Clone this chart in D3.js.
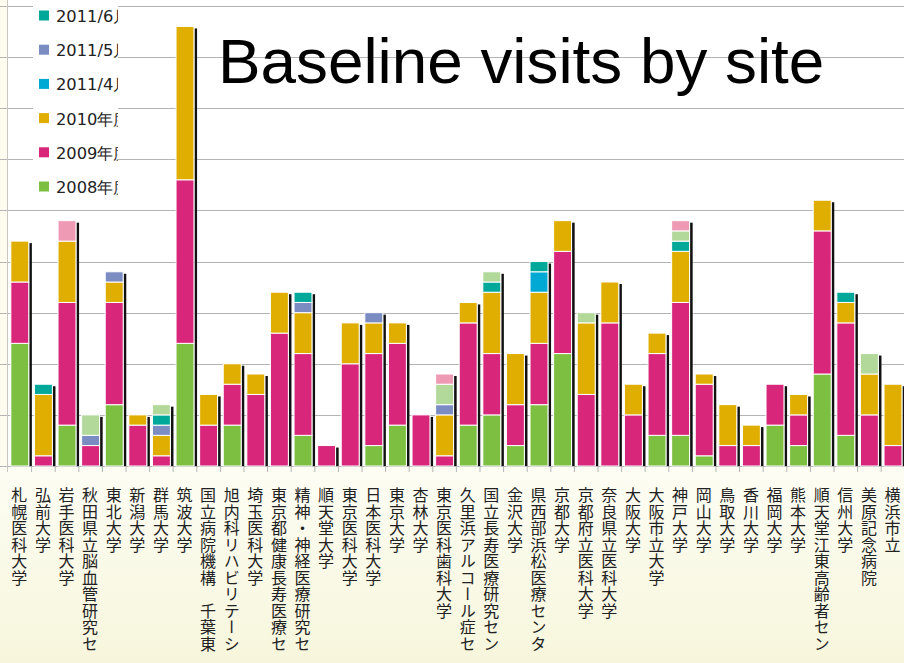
<!DOCTYPE html>
<html><head><meta charset="utf-8">
<script src="https://cdn.jsdelivr.net/npm/d3@7"></script>
<style>body{margin:0;background:#fff;} svg{display:block;}</style>
</head><body>
<svg id="c" width="904" height="663"></svg>
<script>
const sites = ["札幌医科大学","弘前大学","岩手医科大学","秋田県立脳血管研究セ","東北大学","新潟大学","群馬大学","筑波大学","国立病院機構　千葉東","旭内科リハビリテーシ","埼玉医科大学","東京都健康長寿医療セ","精神・神経医療研究セ","順天堂大学","東京医科大学","日本医科大学","東京大学","杏林大学","東京医科歯科大学","久里浜アルコール症セ","国立長寿医療研究セン","金沢大学","県西部浜松医療センタ","京都大学","京都府立医科大学","奈良県立医科大学","大阪大学","大阪市立大学","神戸大学","岡山大学","鳥取大学","香川大学","福岡大学","熊本大学","順天堂江東高齢者セン","信州大学","美原記念病院","横浜市立"];
const v2008   = [12,0,4,0,6,0,0,12,0,4,0,0,3,0,0,2,4,0,0,4,5,2,6,11,0,0,0,3,3,1,0,0,4,2,9,3,0,0];
const v2009   = [6,1,12,2,10,4,1,16,4,4,7,13,8,2,10,9,8,5,1,10,6,4,6,10,7,14,5,8,13,7,2,2,4,3,14,11,5,2];
const v2010   = [4,6,6,0,2,1,2,15,3,2,2,4,4,0,4,3,2,0,4,2,6,5,5,3,7,4,3,2,5,1,4,2,0,2,3,2,4,6];
const v2011_4 = [0,0,0,0,0,0,0,0,0,0,0,0,0,0,0,0,0,0,0,0,0,0,2,0,0,0,0,0,0,0,0,0,0,0,0,0,0,0];
const v2011_5 = [0,0,0,1,1,0,1,0,0,0,0,0,1,0,0,1,0,0,1,0,0,0,0,0,0,0,0,0,0,0,0,0,0,0,0,0,0,0];
const v2011_6 = [0,1,0,0,0,0,1,0,0,0,0,0,1,0,0,0,0,0,0,0,1,0,1,0,0,0,0,0,1,0,0,0,0,0,0,1,0,0];
const v2011_7 = [0,0,0,2,0,0,1,0,0,0,0,0,0,0,0,0,0,0,2,0,1,0,0,0,1,0,0,0,1,0,0,0,0,0,0,0,2,0];
const v2011_8 = [0,0,2,0,0,0,0,0,0,0,0,0,0,0,0,0,0,0,1,0,0,0,0,0,0,0,0,0,1,0,0,0,0,0,0,0,0,0];
const seriesNames = ["2008年度","2009年度","2010年度","2011/4月","2011/5月","2011/6月","2011/7月","2011/8月"];
const seriesValues = [v2008,v2009,v2010,v2011_4,v2011_5,v2011_6,v2011_7,v2011_8];
const seriesColors = ["#7dbf40","#d8267b","#e0ae00","#00a8d4","#7a8cc2","#00a89a","#b2d89a","#ee9ab4"];
const legendShown = 6; // only the lower six legend entries are visible in the picture
const yTicks = [0,5,10,15,20,25,30,35,40,45];
const titleText = "Baseline visits by site";

const W = 904, H = 663;
const svg = d3.select("#c");
const defs = svg.append("defs");
const grad = defs.append("linearGradient").attr("id","bg").attr("x1",0).attr("y1",0).attr("x2",0).attr("y2",1);
grad.append("stop").attr("offset","0%").attr("stop-color","#fdfdf4");
grad.append("stop").attr("offset","100%").attr("stop-color","#f7f6dc");

const x = d3.scaleBand().domain(sites).range([8, 8 + 38*23.6]).paddingInner(0.24).paddingOuter(0.12);
const y = d3.scaleLinear().domain([0,45]).range([466,6]);

svg.append("rect").attr("width",W).attr("height",H).attr("fill","#fff");
svg.append("rect").attr("x",0).attr("y",y(0)).attr("width",W).attr("height",H-y(0)).attr("fill","url(#bg)");
svg.append("rect").attr("x",0).attr("y",0).attr("width",7).attr("height",y(0)).attr("fill","#fdfcef");

// gridlines
svg.append("g").selectAll("line").data(yTicks).join("line")
  .attr("x1",0).attr("x2",W).attr("y1",d=>Math.round(y(d))+0.5).attr("y2",d=>Math.round(y(d))+0.5)
  .attr("stroke","#b4b4b4").attr("stroke-width",1.2);
svg.append("line").attr("x1",7.5).attr("x2",7.5).attr("y1",0).attr("y2",y(0)+6).attr("stroke","#c8c8c0");

// x ticks
const bounds = sites.map((s,i)=> 8 + (i+1)*x.step());
svg.append("g").selectAll("line").data(bounds).join("line")
  .attr("x1",d=>d).attr("x2",d=>d).attr("y1",y(0)).attr("y2",y(0)+6)
  .attr("stroke","#b4b4b4");

// stack
const rows = sites.map((s,i)=>{const r={site:s}; seriesNames.forEach((n,k)=>r[n]=seriesValues[k][i]); return r;});
const stacked = d3.stack().keys(seriesNames)(rows);
const totals = rows.map(r=>d3.sum(seriesNames,n=>r[n]));

// shadows
svg.append("g").selectAll("rect").data(rows).join("rect")
  .attr("x",(d)=>x(d.site)+x.bandwidth()+0.5)
  .attr("y",(d,i)=>y(totals[i])+2)
  .attr("width",2.6)
  .attr("height",(d,i)=>y(0)-y(totals[i])-2)
  .attr("fill","#111");

// bars
stacked.forEach((layer,k)=>{
  svg.append("g").selectAll("rect").data(layer.filter(d=>d[1]>d[0])).join("rect")
    .attr("x",d=>x(d.data.site))
    .attr("y",d=>y(d[1]))
    .attr("width",x.bandwidth())
    .attr("height",d=>y(d[0])-y(d[1]))
    .attr("fill",seriesColors[k])
    .attr("stroke","#fff").attr("stroke-width",1);
});

// x labels (vertical)
svg.append("g").selectAll("text").data(sites).join("text")
  .attr("x",d=>x(d)+x.bandwidth()/2-0.5)
  .attr("y",487)
  .attr("font-family","'Noto Sans CJK JP', sans-serif")
  .attr("font-size",16)
  .attr("letter-spacing","0.5px")
  .attr("fill","#222")
  .style("writing-mode","vertical-rl")
  .text(d=>d);

// legend
defs.append("clipPath").attr("id","lgclip").append("rect").attr("x",33).attr("y",-200).attr("width",85).attr("height",400);
const lg = svg.append("g").attr("clip-path","url(#lgclip)");
lg.append("rect").attr("x",33).attr("y",-200).attr("width",85).attr("height",400).attr("fill","#fff");
const items = lg.selectAll("g").data(seriesNames.slice(0,legendShown)).join("g")
  .attr("transform",(d,i)=>`translate(0,${186.5 - 34.2*i})`);
items.append("rect").attr("x",39).attr("y",-5).attr("width",10).attr("height",10).attr("fill",(d,i)=>seriesColors[i]);
items.append("text").attr("x",56).attr("y",6.5)
  .attr("font-family","'DejaVu Sans', Verdana, sans-serif").attr("font-size",16.3)
  .attr("fill","#222").text(d=>d);

// title
svg.append("text").attr("x",218).attr("y",83)
  .attr("font-family","'Liberation Sans', Arial, sans-serif").attr("font-size",63.8)
  .attr("fill","#000").text(titleText);
</script>
</body></html>
